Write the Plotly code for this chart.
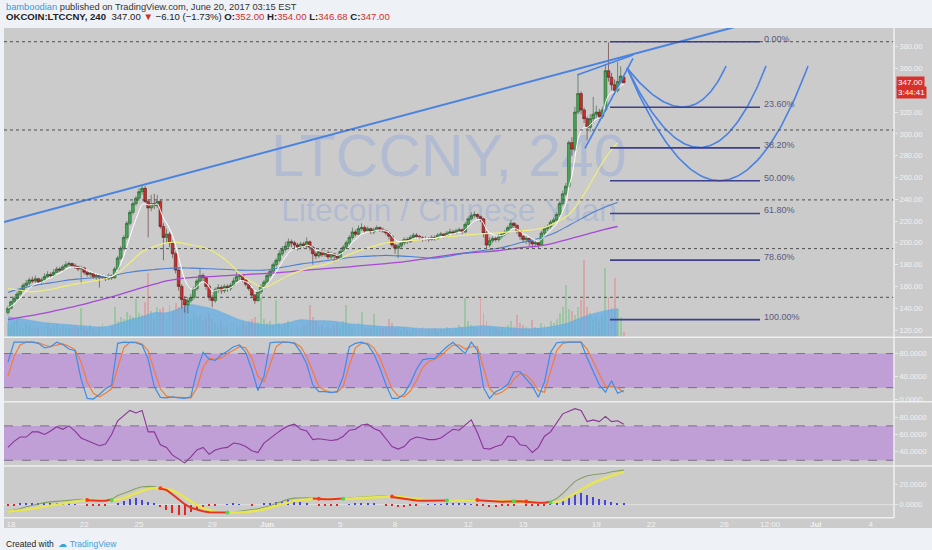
import numpy as np
import pandas as pd
import plotly.graph_objects as go

# ---------------- DATA ----------------
first_candle = "2017-05-17 20:00"   # 4h candles, chart time zone
closes = [140, 146, 149, 153, 157, 161, 163, 166, 165, 167, 164, 166,
          169, 171, 170, 173, 176, 175, 178, 180, 181, 179, 178, 176,
          177, 173, 171, 172, 169, 170, 168, 169, 167, 170, 168, 176,
          186, 195, 205, 218, 228, 236, 241, 247, 250, 238, 232, 236,
          234, 238, 215, 205, 208, 200, 190, 175, 160, 148, 143, 147,
          150, 158, 165, 170, 168, 160, 150, 147, 157, 159, 156, 160,
          158, 161, 165, 169, 170, 166, 162, 158, 152, 147, 155, 160,
          164, 170, 174, 180, 184, 190, 194, 197, 201, 200, 198, 196,
          199, 197, 201, 196, 190, 188, 192, 189, 191, 187, 190, 188,
          186, 192, 196, 200, 205, 210, 208, 213, 214, 211, 213, 210,
          212, 214, 212, 211, 209, 206, 198, 195, 197, 200, 203, 201,
          205, 207, 206, 205, 203, 204, 203, 205, 204, 207, 208, 206,
          209, 210, 209, 211, 212, 210, 217, 222, 225, 226, 224, 222,
          209, 198, 202, 204, 203, 206, 208, 210, 214, 218, 216, 211,
          206, 203, 204, 201, 199, 200, 198, 209, 213, 215, 219, 221,
          226, 236, 245, 252, 292, 286, 320, 337, 322, 314, 306, 314,
          318, 320, 316, 322, 358, 352, 345, 340, 348, 353.1, 347]
opens = [136, 140, 146, 149, 153, 157, 161, 163, 166, 165, 167, 164,
         166, 169, 171, 170, 173, 176, 175, 178, 180, 181, 179, 178,
         176, 177, 173, 171, 172, 169, 170, 168, 169, 167, 170, 168,
         176, 186, 195, 205, 218, 228, 236, 241, 247, 250, 238, 232,
         236, 234, 238, 215, 205, 208, 200, 190, 175, 160, 148, 143,
         147, 150, 158, 165, 170, 168, 160, 150, 147, 157, 159, 156,
         160, 158, 161, 165, 169, 170, 166, 162, 158, 152, 147, 155,
         160, 164, 170, 174, 180, 184, 190, 194, 197, 201, 200, 198,
         196, 199, 197, 201, 196, 190, 188, 192, 189, 191, 187, 190,
         188, 186, 192, 196, 200, 205, 210, 208, 213, 214, 211, 213,
         210, 212, 214, 212, 211, 209, 206, 198, 195, 197, 200, 203,
         201, 205, 207, 206, 205, 203, 204, 203, 205, 204, 207, 208,
         206, 209, 210, 209, 211, 212, 210, 217, 222, 225, 226, 224,
         222, 209, 198, 202, 204, 203, 206, 208, 210, 214, 218, 216,
         211, 206, 203, 204, 201, 199, 200, 198, 209, 213, 215, 219,
         221, 226, 236, 245, 252, 292, 286, 320, 337, 322, 314, 306,
         314, 318, 320, 316, 322, 358, 352, 345, 340, 348, 352]
highs = [142, 147, 151, 155, 158, 163, 166, 168, 169, 170, 168, 168,
         172, 174, 173, 176, 178, 178, 180, 183, 183, 182, 181, 179,
         179, 178, 175, 174, 173, 172, 171, 171, 170, 172, 171, 178,
         188, 197, 207, 220, 230, 238, 243, 250, 253, 252, 240, 244,
         245, 244, 240, 218, 213, 210, 202, 192, 177, 162, 151, 150,
         153, 160, 167, 176, 172, 169, 162, 152, 159, 162, 161, 162,
         162, 163, 168, 173, 172, 171, 167, 163, 159, 153, 157, 162,
         166, 172, 176, 182, 186, 193, 197, 201, 204, 203, 202, 200,
         201, 201, 205, 202, 197, 192, 194, 194, 193, 193, 192, 191,
         190, 194, 198, 202, 207, 214, 212, 216, 218, 216, 215, 214,
         214, 216, 215, 214, 212, 210, 207, 199, 199, 202, 205, 205,
         207, 209, 209, 207, 206, 206, 205, 207, 207, 209, 210, 209,
         211, 213, 212, 213, 214, 213, 219, 224, 228, 229, 227, 225,
         223, 211, 205, 206, 206, 208, 210, 212, 216, 221, 219, 217,
         212, 207, 206, 205, 203, 202, 201, 211, 215, 217, 221, 223,
         228, 238, 248, 255, 294, 297, 325, 354, 339, 324, 316, 318,
         334, 326, 323, 325, 364, 384, 356, 350, 366, 362, 354]
lows = [134, 139, 144, 147, 151, 155, 159, 161, 163, 163, 162, 162,
        165, 168, 168, 169, 172, 173, 174, 177, 178, 177, 176, 174,
        162, 171, 169, 169, 167, 166, 159, 166, 165, 166, 166, 167,
        175, 184, 193, 203, 216, 226, 234, 239, 244, 236, 205, 229,
        231, 232, 213, 184, 200, 196, 186, 172, 156, 140, 136, 135,
        145, 148, 156, 163, 164, 157, 147, 141, 145, 154, 153, 154,
        155, 156, 160, 164, 166, 164, 160, 156, 149, 144, 146, 153,
        158, 162, 168, 172, 178, 182, 188, 192, 195, 196, 195, 193,
        194, 195, 195, 193, 180, 185, 186, 187, 187, 185, 185, 182,
        184, 185, 191, 194, 198, 203, 206, 207, 211, 209, 210, 208,
        208, 211, 210, 209, 207, 203, 196, 190, 186, 195, 198, 199,
        200, 203, 204, 203, 201, 202, 201, 202, 202, 203, 205, 204,
        205, 208, 207, 208, 210, 208, 209, 216, 221, 223, 222, 219,
        205, 195, 196, 200, 201, 201, 204, 206, 208, 212, 213, 208,
        203, 200, 199, 197, 195, 196, 195, 197, 207, 211, 213, 217,
        219, 224, 234, 243, 250, 280, 284, 318, 318, 310, 294, 302,
        310, 314, 313, 314, 320, 348, 340, 336, 338, 346, 346.68]
volumes = [14, 12, 16, 18, 10, 9, 14, 12, 8, 10, 9, 12,
           10, 14, 9, 11, 13, 8, 12, 10, 9, 8, 11, 9,
           29, 10, 8, 12, 9, 7, 10, 14, 8, 9, 11,
           30, 16, 20, 18, 25, 22, 20, 38, 24, 22, 35, 64,
           26, 18, 30, 28, 30, 18, 32, 26, 34, 30, 38, 28,
           20, 18, 24, 20, 22, 16, 20, 24, 18, 14, 12, 16,
           10, 12, 14, 16, 12, 10, 14, 12, 16, 18, 20, 15,
           39, 18, 14, 16, 12, 37, 14, 10, 12, 16, 12, 8,
           10, 8, 12, 14, 32, 20, 16, 10, 12, 8, 10, 9,
           12, 14, 10, 16, 32, 12, 10, 8, 14, 25, 9, 10,
           8, 23, 10, 8, 9, 10, 18, 14, 9, 8, 7, 10,
           8, 6, 9, 7, 8, 10, 6, 8, 7, 9, 6, 8,
           7, 10, 8, 6, 9, 12, 10, 39, 16, 12, 10, 8,
           39, 24, 16, 10, 8, 9, 7, 10, 8, 12, 16, 10,
           22, 14, 12, 10, 8, 17, 10, 9, 14, 12, 10, 16,
           14, 18, 24, 30, 52, 28, 26, 22, 30, 37, 77, 30,
           24, 18, 20, 16, 22, 69, 40, 30, 59, 28, 20, 5]

# moving averages / volume average, one value every 4 candles
ma_yellow = [158, 156.5, 155, 156.5, 158.5, 161, 163, 165, 167, 172,
             182, 191.5, 196.5, 200, 200.5, 198, 196, 191, 183, 172,
             164, 159, 164, 170, 174.5, 178, 180, 184, 189.5, 193.5,
             197, 200, 201, 202, 203, 204, 205.5, 206.5, 207.5, 208.5,
             209, 210, 211, 212, 214, 219, 226, 240, 259, 278, 292]
ma_blue = [154.5, 158, 160.5, 162.5, 164, 166, 167, 168, 169, 171,
           173, 174.5, 175.5, 176.5, 177, 176.8, 176.5, 176, 175.5, 175,
           174.8, 175, 176.5, 178.5, 180.5, 182, 183.5, 185, 186.5, 187.5,
           188, 188.5, 188, 187.5, 186.5, 186, 187.5, 189.5, 191.5, 193,
           194.5, 197, 200, 202.5, 205.5, 210, 216, 222, 228, 233, 237]
ma_purple = [129.5, 131.5, 133.5, 135.5, 138, 140.5, 143, 146, 149, 152,
             155.5, 159, 162, 165, 167, 168, 168.8, 169.3, 170, 170.6,
             171.2, 171.8, 172.5, 173.3, 174.5, 175.5, 176.3, 177.2, 178, 179,
             180, 181, 182, 183.5, 185, 186.8, 188.5, 190, 191, 191.8,
             192.5, 194, 195.5, 196.5, 198, 200.5, 203.5, 206.5, 209.5, 212.5, 215]
vol_ma = [20, 18, 16, 14, 13, 12, 11, 10, 10, 13,
          17, 20, 24, 24, 28, 32, 30, 27, 22, 17,
          14, 12, 12, 14, 17, 16, 16, 15, 13, 12,
          11, 10, 10, 9, 8, 8, 8, 9, 10, 11,
          10, 9, 8, 8, 9, 11, 14, 19, 23, 26, 28]

# oscillators, one value every 2 candles
stoch_k = [65, 100, 100, 100, 100, 98, 90, 92, 100, 96,
           88, 85, 35, 1, 0, 8, 18, 24, 98, 100,
           100, 99, 95, 70, 22, 3, 2, 4, 2, 1,
           4, 50, 82, 70, 68, 78, 84, 92, 95, 82,
           52, 15, 40, 99, 100, 100, 100, 98, 83, 62,
           25, 13, 13, 11, 13, 40, 92, 98, 100, 96,
           80, 55, 25, 1, 1, 9, 28, 52, 69, 71,
           71, 82, 92, 100, 90, 80, 100, 86, 20, 1,
           13, 18, 26, 48, 48, 36, 23, 3, 30, 82,
           99, 100, 100, 100, 100, 72, 50, 25, 12, 32,
           10, 15]
stoch_d = [40, 75, 95, 100, 100, 99, 95, 92, 95, 97,
           93, 87, 65, 30, 10, 4, 10, 18, 55, 90,
           100, 100, 97, 85, 50, 18, 5, 3, 3, 2,
           2, 20, 55, 72, 70, 72, 80, 86, 92, 90,
           72, 40, 30, 60, 92, 100, 100, 99, 92, 75,
           48, 22, 15, 12, 12, 22, 60, 90, 98, 98,
           90, 72, 45, 18, 5, 4, 14, 32, 55, 66,
           70, 76, 86, 95, 95, 88, 92, 92, 55, 18,
           8, 12, 20, 35, 45, 42, 32, 15, 12, 50,
           85, 98, 100, 100, 100, 88, 65, 42, 22, 22,
           20, 12]
rsi_vals = [45, 52, 57, 57, 63, 63, 60, 64, 69, 66,
            70, 64, 56, 53, 50, 47, 49, 60, 76, 82,
            88, 85, 88, 63, 63, 48, 45, 36, 31, 27,
            34, 42, 45, 37, 42, 44, 45, 50, 49, 46,
            41, 39, 50, 56, 61, 66, 70, 72, 66, 64,
            54, 55, 54, 53, 54, 58, 65, 66, 71, 72,
            67, 64, 55, 46, 43, 46, 54, 57, 56, 54,
            54, 56, 61, 66, 65, 71, 77, 62, 44, 43,
            46, 48, 58, 57, 48, 47, 39, 45, 58, 63,
            73, 84, 87, 90, 88, 75, 77, 75, 81, 75,
            76, 72]
macd_vals = [-6.5, -5.3, -4, -2, -0.5, 0.5, 2, 2.8, 3.3, 4,
             4.5, 5, 5.3, 4.4, 4.0, 3.8, 4.0, 5.2, 9, 11,
             13.5, 16, 17.7, 18, 17.8, 16.0, 14.5, 10, 5, 0.5,
             -3, -5, -6.5, -7.5, -7.8, -7.8, -7.8, -7.2, -6.5, -6,
             -5.2, -4, -2.5, -1, 1.5, 3.8, 5.5, 6.5, 6.9, 6.8,
             6.2, 5.6, 5.4, 5.4, 5.5, 6.0, 6.7, 7.2, 7.7, 8,
             8.3, 8.5, 8.4, 7.6, 6.8, 5.8, 4.8, 4.2, 4, 4,
             4, 4, 4.1, 4.3, 4.5, 4.6, 5, 4.4, 4, 3.6,
             3.3, 3, 3.2, 3.5, 3.4, 3.0, 2.2, 2, 2, 3,
             6, 11, 17, 23, 26, 28.5, 29.5, 30, 31, 32.5,
             33.5, 34]
signal_vals = [-6.8, -6.3, -5.6, -4.8, -3.8, -2.8, -1.8, -0.8, 0.3, 1.5,
               2.5, 3.3, 4, 4.6, 4.6, 4.4, 4.2, 4.4, 5, 6.5,
               9, 11.5, 13.5, 15.5, 16.3, 16.3, 15.5, 14, 11, 7,
               3, -0.5, -3.5, -5.5, -7, -7.6, -7.8, -7.8, -7.6, -7.3,
               -6.7, -5.8, -4.5, -2.8, -1, 0.8, 2.5, 3.8, 4.8, 5.4,
               6.0, 5.9, 5.8, 5.7, 5.6, 5.8, 6, 6.3, 6.7, 7.1,
               7.5, 7.8, 8, 8, 7.8, 7.3, 6.5, 5.7, 5, 4.6,
               4.3, 4.2, 4.1, 4.1, 4.2, 4.3, 4.5, 4.6, 4.5, 4.3,
               4, 3.7, 3.5, 3.3, 3.2, 3.1, 2.7, 2.5, 2.3, 2.2,
               2.8, 4.5, 7.5, 11, 15, 18.5, 21.5, 24, 26.5, 28.5,
               30.5, 32]
hist_vals = [-1, -0.5, 1, 1.5, 2, 2, 2, 1.5, 1.5, 1,
             1, 0.5, 0, -0.5, -1, -1, -0.5, 0, 2, 4,
             5.5, 6.5, 5, 3, 1, -2, -5, -8, -10, -10,
             -7, -4, -2, -1, -0.5, 0, 0.5, 1, 0.5, 0,
             -0.5, 0, 1, 2, 3, 4, 4.5, 4, 3, 1.5,
             0, -0.5, -1, -0.8, -0.5, 0, 0.5, 1, 1.5, 1.5,
             1, 0, -0.5, -1.5, -2, -2, -1.5, -0.5, 0, 0.5,
             0.5, 0.5, 1, 1.2, 1.2, 1, 0.5, -0.5, -1.5, -2,
             -2, -1.5, -1, -0.5, 0, -0.5, -1, -1.2, -0.5, 1,
             3, 6, 9, 11, 11.5, 10, 8, 6, 4.5, 3,
             2, 1.5]

# drawings (anchors in date / price)
level_lines = [384.6, 303.6, 239.4, 194.7, 150.0]
fib_high, fib_low = 384.6, 129.5
fib_levels = [0, 0.236, 0.382, 0.5, 0.618, 0.786, 1.0]
fib_start, fib_end = "2017-06-19 18:00", "2017-06-27 22:50"
trend_dates = ["2017-05-17 14:49", "2017-06-26 20:38"]
trend_prices = [219.2, 399.4]
fan_lines = [(("2017-06-17 22:50", 354.0), ("2017-06-21 00:10", 372.4)),
             (("2017-06-18 09:10", 286.8), ("2017-06-21 00:10", 369.4))]
curve_start = ("2017-06-20 16:19", 360.5)
curve_ctrl = [("2017-06-24 02:20", 288.0), ("2017-06-24 20:41", 213.7), ("2017-06-25 21:38", 152.8)]
curve_end = [("2017-06-26 02:13", 362.3), ("2017-06-28 06:42", 362.3), ("2017-06-30 13:49", 362.3)]

x_range = ["2017-05-17 14:49", "2017-07-05 06:39"]
tick_dates = ["2017-05-18", "2017-05-22", "2017-05-25", "2017-05-29", "2017-06-01",
              "2017-06-05", "2017-06-08", "2017-06-12", "2017-06-15", "2017-06-19",
              "2017-06-22", "2017-06-26", "2017-06-28 12:00", "2017-07-01", "2017-07-04"]
tick_text = ["18", "22", "25", "29", "<b>Jun</b>", "5", "8", "12", "15", "19",
             "22", "26", "12:00", "<b>Jul</b>", "4"]
price_ticks = [120, 140, 160, 180, 200, 220, 240, 260, 280, 300, 320, 360, 380]

# ---------------- FIGURE ----------------
dates = pd.date_range(first_candle, periods=len(closes), freq="4h")
d2 = dates[::2][:len(stoch_k)]
d4 = dates[::4][:len(ma_yellow)]

BG = "#cbcbcb"
PAGE = "#eef1f6"
LBL = "#f2f2f2"
BLUE_DRAW = "#4a82e2"

fig = go.Figure()

# volume (base axis y)
fig.add_trace(go.Scatter(x=d4, y=vol_ma, xaxis="x", yaxis="y", mode="lines",
                         line=dict(width=0.6, color="rgba(95,172,228,0.9)", shape="spline"),
                         fill="tozeroy", fillcolor="rgba(95,172,228,0.72)", hoverinfo="skip"))
vol_colors = ["rgba(95,190,110,0.42)" if c >= o else "rgba(230,115,115,0.42)"
              for o, c in zip(opens, closes)]
fig.add_trace(go.Bar(x=dates, y=volumes, xaxis="x", yaxis="y", marker=dict(color=vol_colors, line_width=0),
                     width=4 * 3600 * 1000 * 0.62, hoverinfo="skip"))

# watermark (below the candles)
x0 = pd.Timestamp(x_range[0]); x1 = pd.Timestamp(x_range[1])
wm_x = x0 + (x1 - x0) * 0.5
fig.add_trace(go.Scatter(x=[wm_x, wm_x], y=[175.3, 123.5], xaxis="x", yaxis="y", mode="text",
                         text=["LTCCNY, 240", "Litecoin / Chinese Yuan"],
                         textfont=dict(family="Liberation Sans", size=[59, 32], color="rgba(85,130,235,0.22)"),
                         hoverinfo="skip"))

# candles (price axis y5 overlaying y)
fig.add_trace(go.Candlestick(x=dates, open=opens, high=highs, low=lows, close=closes,
                             xaxis="x", yaxis="y5", whiskerwidth=0,
                             increasing=dict(fillcolor="#45a852", line=dict(color="#2c5a33", width=0.6)),
                             decreasing=dict(fillcolor="#d02a2a", line=dict(color="#5a2626", width=0.6)),
                             hoverinfo="skip"))
white_ma = pd.Series(closes).ewm(span=6, adjust=False).mean()
for ys, xs, col, w in [(ma_purple, d4, "#a848d8", 1.3), (ma_blue, d4, "#4f7fd0", 1.1),
                       (ma_yellow, d4, "#f0ee78", 1.2), (white_ma, dates, "#ffffff", 1.0)]:
    fig.add_trace(go.Scatter(x=xs, y=ys, xaxis="x", yaxis="y5", mode="lines",
                             line=dict(color=col, width=w, shape="spline"), hoverinfo="skip"))

# drawings
fig.add_trace(go.Scatter(x=trend_dates, y=trend_prices, xaxis="x", yaxis="y5", mode="lines",
                         line=dict(color=BLUE_DRAW, width=2), hoverinfo="skip"))
for (a, b) in fan_lines:
    fig.add_trace(go.Scatter(x=[a[0], b[0]], y=[a[1], b[1]], xaxis="x", yaxis="y5", mode="lines",
                             line=dict(color=BLUE_DRAW, width=1.6), hoverinfo="skip"))
t = np.linspace(0, 1, 80)
p0t = pd.Timestamp(curve_start[0]).value
for c, e in zip(curve_ctrl, curve_end):
    p1t = pd.Timestamp(c[0]).value; p2t = pd.Timestamp(e[0]).value
    xt = (1 - t) ** 2 * p0t + 2 * t * (1 - t) * p1t + t ** 2 * p2t
    yt = (1 - t) ** 2 * curve_start[1] + 2 * t * (1 - t) * c[1] + t ** 2 * e[1]
    fig.add_trace(go.Scatter(x=pd.to_datetime(xt), y=yt, xaxis="x", yaxis="y5", mode="lines",
                             line=dict(color=BLUE_DRAW, width=1.6), hoverinfo="skip"))

# stochastic (y2)
fig.add_trace(go.Scatter(x=d2, y=stoch_d, xaxis="x", yaxis="y2", mode="lines",
                         line=dict(color="#f07d3a", width=1.2), hoverinfo="skip"))
fig.add_trace(go.Scatter(x=d2, y=stoch_k, xaxis="x", yaxis="y2", mode="lines",
                         line=dict(color="#3d8de6", width=1.2), hoverinfo="skip"))
# RSI (y3)
fig.add_trace(go.Scatter(x=d2, y=rsi_vals, xaxis="x", yaxis="y3", mode="lines",
                         line=dict(color="#8a3598", width=1.1), hoverinfo="skip"))
# MACD (y4)
hist_colors = ["#4646dc" if h >= 0 else "#e02626" for h in hist_vals]
fig.add_trace(go.Bar(x=d2, y=hist_vals, xaxis="x", yaxis="y4", marker=dict(color=hist_colors, line_width=0),
                     width=6.0e6, hoverinfo="skip"))
fig.add_trace(go.Scatter(x=d2, y=macd_vals, xaxis="x", yaxis="y4", mode="lines",
                         line=dict(color="#86a060", width=1.1), hoverinfo="skip"))
fig.add_trace(go.Scatter(x=d2, y=signal_vals, xaxis="x", yaxis="y4", mode="lines",
                         line=dict(color="#e8e64e", width=2.4), hoverinfo="skip"))
diff = np.array(macd_vals) - np.array(signal_vals)
n = len(diff)
red_y = [macd_vals[i] if (diff[i] < 0 or (i > 0 and diff[i - 1] < 0) or (i + 1 < n and diff[i + 1] < 0 and diff[i] < 0.3))
         else None for i in range(n)]
fig.add_trace(go.Scatter(x=d2, y=red_y, xaxis="x", yaxis="y4", mode="lines", connectgaps=False,
                         line=dict(color="#e8341f", width=2.0), hoverinfo="skip"))
up_i = [i for i in range(1, n) if diff[i - 1] < 0 <= diff[i]]
dn_i = [i for i in range(1, n) if diff[i - 1] >= 0 > diff[i]]
fig.add_trace(go.Scatter(x=[d2[i] for i in up_i], y=[signal_vals[i] for i in up_i], xaxis="x", yaxis="y4",
                         mode="markers", marker=dict(color="#46dc46", size=4), hoverinfo="skip"))
fig.add_trace(go.Scatter(x=[d2[i] for i in dn_i], y=[signal_vals[i] for i in dn_i], xaxis="x", yaxis="y4",
                         mode="markers", marker=dict(color="#ff3a12", size=4), hoverinfo="skip"))

# ---------------- SHAPES ----------------
XR = (932 - 4) / 890.0
shapes = [dict(type="rect", xref="paper", yref="paper", x0=0, x1=XR, y0=0, y1=1,
               fillcolor=BG, line_width=0, layer="below")]
BAND = "#c09fd6"
shapes.append(dict(type="rect", xref="paper", yref="y2", x0=0, x1=1, y0=20, y1=80,
                   fillcolor=BAND, line_width=0, layer="below"))
shapes.append(dict(type="rect", xref="paper", yref="y3", x0=0, x1=1, y0=30, y1=70,
                   fillcolor=BAND, line_width=0, layer="below"))
for yr, v in [("y2", 20), ("y2", 80), ("y3", 30), ("y3", 70)]:
    shapes.append(dict(type="line", xref="paper", yref=yr, x0=0, x1=1, y0=v, y1=v,
                       line=dict(color="#7e6b8c", width=1, dash="dash"), layer="below"))
shapes.append(dict(type="line", xref="paper", yref="y4", x0=0, x1=1, y0=0, y1=0,
                   line=dict(color="#e2e2e2", width=1), layer="below"))
for v in level_lines:
    shapes.append(dict(type="line", xref="x domain", yref="y5", x0=0, x1=1, y0=v, y1=v,
                       line=dict(color="#4e4e4e", width=1, dash="dot")))
for lv in fib_levels:
    p = fib_high - (fib_high - fib_low) * lv
    shapes.append(dict(type="line", xref="x", yref="y5", x0=fib_start, x1=fib_end, y0=p, y1=p,
                       line=dict(color="#3e3e8c", width=1.6)))
# pane separators
for yp, xe in [(0.3814, XR), (0.2526, XR), (0.124, XR), (0.0206, 1)]:
    shapes.append(dict(type="line", xref="paper", yref="paper", x0=0, x1=xe, y0=yp, y1=yp,
                       line=dict(color="#efefef", width=1.5)))
shapes.append(dict(type="line", xref="paper", yref="paper", x0=1, x1=1, y0=0.0206, y1=1,
                   line=dict(color="#efefef", width=1.5)))

# ---------------- ANNOTATIONS ----------------
ann = []
for lv in fib_levels:
    p = fib_high - (fib_high - fib_low) * lv
    ann.append(dict(x=fib_end, y=p, xref="x", yref="y5", text=f"{lv * 100:.2f}%", showarrow=False,
                    xanchor="left", yanchor="middle", xshift=2, yshift=3,
                    font=dict(family="Liberation Sans", size=9, color="#5a5a80")))
ann.append(dict(x=1.002, y=closes[-1], xref="paper", yref="y5", text="347.00", showarrow=False,
                xanchor="left", yanchor="middle", bgcolor="#d8302a", borderpad=1,
                font=dict(family="Liberation Sans", size=8, color="#ffffff")))
ann.append(dict(x=1.002, y=closes[-1], xref="paper", yref="y5", text="3:44:41", showarrow=False,
                xanchor="left", yanchor="middle", yshift=-10, bgcolor="#d8302a", borderpad=1,
                font=dict(family="Liberation Sans", size=8, color="#ffffff")))
RED = "#d0302a"
ann.append(dict(x=0, y=1.043, xref="paper", yref="paper", xanchor="left", yanchor="middle", showarrow=False,
                text='<span style="color:#3a9ad9">bamboodian</span> published on TradingView.com, June 20, 2017 03:15 EST',
                font=dict(family="Liberation Sans", size=9.3, color="#333333")))
ann.append(dict(x=0, y=1.023, xref="paper", yref="paper", xanchor="left", yanchor="middle", showarrow=False,
                text=('<b>OKCOIN:LTCCNY, 240</b>  347.00 <span style="color:%s">▼</span> −6.10 (−1.73%%) '
                      '<b>O:</b><span style="color:%s">352.00</span> <b>H:</b><span style="color:%s">354.00</span> '
                      '<b>L:</b><span style="color:%s">346.68</span> <b>C:</b><span style="color:%s">347.00</span>')
                     % (RED, RED, RED, RED, RED),
                font=dict(family="Liberation Sans", size=9.6, color="#222222")))
ann.append(dict(x=0, y=-0.031, xref="paper", yref="paper", xanchor="left", yanchor="middle", showarrow=False,
                text='Created with  <span style="color:#3aa3d9">☁ TradingView</span>',
                font=dict(family="Liberation Sans", size=8.5, color="#222222")))

axis_common = dict(side="right", anchor="x", showgrid=False, zeroline=False, showline=False,
                   ticks="outside", ticklen=3, tickcolor="#e8e8e8",
                   tickfont=dict(family="Liberation Sans", size=7.5, color=LBL), fixedrange=True)

fig.update_layout(
    width=932, height=550,
    margin=dict(l=4, r=38, t=28, b=22),
    paper_bgcolor=PAGE, plot_bgcolor="rgba(0,0,0,0)",
    showlegend=False, bargap=0, boxgap=0.1, boxgroupgap=0,
    font=dict(family="Liberation Sans", size=8, color=LBL),
    xaxis=dict(type="date", range=x_range, anchor="y4", domain=[0, 1], tickvals=tick_dates, ticktext=tick_text,
               showgrid=False, zeroline=False, showline=False, ticks="",
               tickfont=dict(family="Liberation Sans", size=8, color=LBL),
               rangeslider=dict(visible=False), fixedrange=True),
    yaxis=dict(domain=[0.3826, 1], range=[0, 308.8], visible=False, fixedrange=True),
    yaxis5=dict(overlaying="y", range=[113.85, 397.2], tickvals=price_ticks, tickformat=".2f", **axis_common),
    yaxis2=dict(domain=[0.254, 0.38], range=[-3.5, 107.4], tickvals=[0, 40, 80], tickformat=".4f", **axis_common),
    yaxis3=dict(domain=[0.126, 0.251], range=[24.5, 97.2], tickvals=[40, 60, 80], tickformat=".4f", **axis_common),
    yaxis4=dict(domain=[0.021, 0.122], range=[-12.6, 37.1], tickvals=[0, 20], tickformat=".4f", **axis_common),
    shapes=shapes, annotations=ann,
)

fig.write_html("out.html", config={"displayModeBar": False},
               post_script="document.body.style.margin='0';document.body.style.overflow='hidden';")
